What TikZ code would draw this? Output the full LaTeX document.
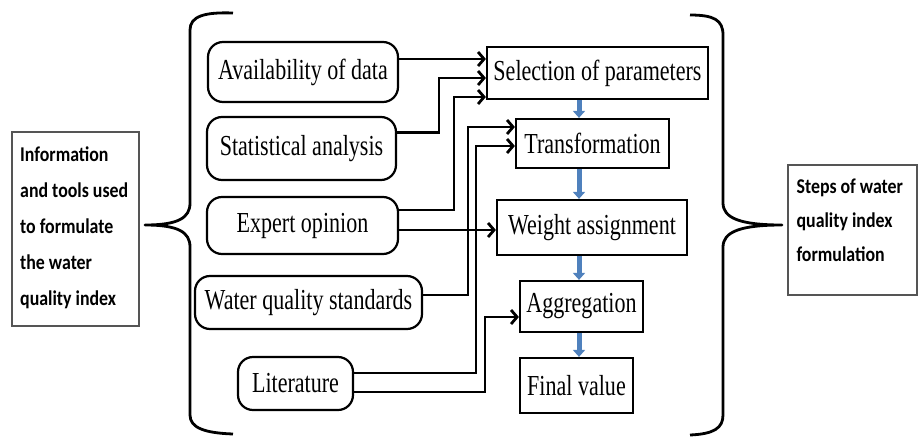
\documentclass[tikz,border=0pt]{standalone}
\usepackage{fontspec}
\usetikzlibrary{arrows.meta,calc}
\newfontfamily\tnrfont[FakeStretch=0.76]{Liberation Serif}
\newfontfamily\calfont[FakeStretch=0.85]{Carlito}
\definecolor{wqblue}{HTML}{4F81BD}
\definecolor{boxgray}{HTML}{555555}
\begin{document}
\begin{tikzpicture}[x=1pt,y=-1pt,
  oval/.style={draw, line width=2.2pt, rounded corners=15pt, inner sep=0pt,
    font=\tnrfont\fontsize{29}{31}\selectfont},
  stepbox/.style={draw, line width=2.2pt, inner sep=0pt,
    font=\tnrfont\fontsize{29}{31}\selectfont},
  infobox/.style={draw=boxgray, line width=1.2pt, inner sep=0pt},
  infotext/.style={inner sep=0pt, align=left,
    font=\calfont\bfseries\fontsize{21}{36}\selectfont},
  conn/.style={line width=2.8pt, -{Straight Barb[length=6pt,width=14pt,line width=2.8pt]}},
  flow/.style={line width=5pt, wqblue, -{Triangle[length=7pt,width=12pt]}},
  brace/.style={line width=2.8pt, line join=round}
]
\useasboundingbox (0,0) rectangle (919,437);

% left info box
\node[infobox, minimum width=127, minimum height=194] (info) at (75.5,229) {};
\node[infotext, anchor=west] (infot) at (20,228)
  {Information\\and tools used\\to formulate\\the water\\quality index};

% right info box
\node[infobox, minimum width=129, minimum height=130] (steps) at (852.5,230) {};
\node[infotext, anchor=north west] (stepst) at ([xshift=9pt,yshift=-14pt]steps.north west)
  {Steps of water\\[-2pt]quality index\\[-2pt]formulation};

% braces
\draw[brace] (233,13) .. controls (205,12) and (190,16) .. (190,30) -- (190,203)
  .. controls (190,218) and (178,225) .. (145,225)
  .. controls (178,225) and (190,232) .. (190,247) -- (190,415)
  .. controls (190,428) and (205,433) .. (233,434);
\draw[brace] (690,15) .. controls (714,15) and (723,20) .. (723,35) -- (723,203)
  .. controls (723,218) and (740,225) .. (782,225)
  .. controls (740,225) and (723,232) .. (723,247) -- (723,415)
  .. controls (723,428) and (714,434) .. (690,435);

% left sources
\node[oval, minimum width=190, minimum height=60] (avail) at (303,72) {Availability of data};
\node[oval, minimum width=189, minimum height=63] (stat) at (301.5,148.5) {Statistical analysis};
\node[oval, minimum width=191, minimum height=57] (expert) at (302.5,225.5) {Expert opinion};
\node[oval, minimum width=227, minimum height=53] (water) at (308.5,302.5) {Water quality standards};
\node[oval, minimum width=115, minimum height=53] (lit) at (295.5,383.5) {Literature};

% steps
\node[stepbox, minimum width=221, minimum height=52] (sel) at (597.5,73) {Selection of parameters};
\node[stepbox, minimum width=153, minimum height=49] (trans) at (592.5,143.5) {Transformation};
\node[stepbox, minimum width=190, minimum height=55] (weight) at (592,227.5) {Weight assignment};
\node[stepbox, minimum width=123, minimum height=51] (agg) at (581.5,306.5) {Aggregation};
\node[stepbox, minimum width=113, minimum height=55] (final) at (576.5,385.5) {Final value};

% blue flow arrows
\coordinate (col) at (579,0);
\draw[flow] (sel.south -| col) -- (trans.north -| col);
\draw[flow] (trans.south -| col) -- (weight.north -| col);
\draw[flow] (weight.south -| col) -- (agg.north -| col);
\draw[flow] (agg.south -| col) -- (final.north -| col);

% connectors
\draw[conn] ([yshift=13pt]avail.east) coordinate (a1) -- (a1 -| sel.west);
\draw[conn] ([yshift=16pt]stat.east) -| ([xshift=-47pt,yshift=-5pt]sel.west) -- ([yshift=-5pt]sel.west);
\draw[conn] ([yshift=15.5pt]expert.east) -| ([xshift=-32pt,yshift=-24pt]sel.west) -- ([yshift=-24pt]sel.west);
\draw[conn] ([yshift=-4.5pt]expert.east) coordinate (e2) -- (e2 -| weight.west);
\draw[conn] ([yshift=7.5pt]water.east) -| ([xshift=-47pt,yshift=16.5pt]trans.west) -- ([yshift=16.5pt]trans.west);
\draw[conn] ([yshift=10.5pt]lit.east) -| ([xshift=-39pt,yshift=-2.5pt]trans.west) -- ([yshift=-2.5pt]trans.west);
\draw[conn] ([yshift=-8.5pt]lit.east) -| ([xshift=-34pt,yshift=-10.5pt]agg.west) -- ([yshift=-10.5pt]agg.west);
\end{tikzpicture}
\end{document}
